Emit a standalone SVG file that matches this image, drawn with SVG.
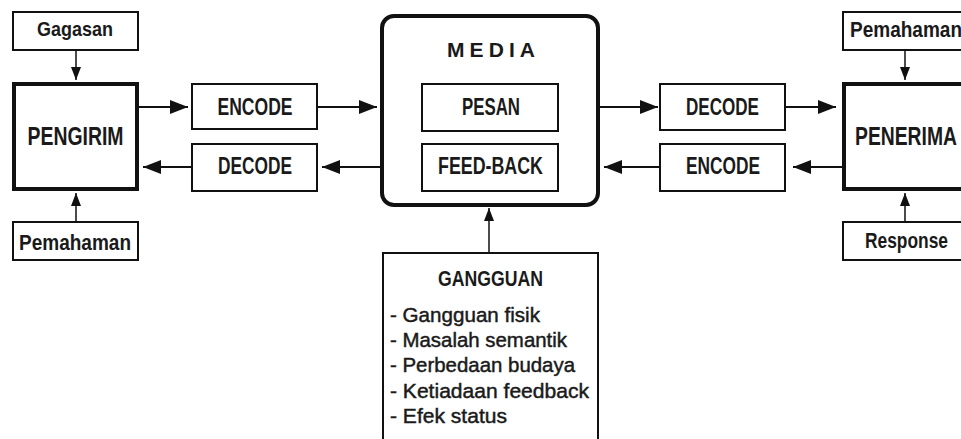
<svg xmlns="http://www.w3.org/2000/svg" width="961" height="439" viewBox="0 0 961 439">
<defs>
<marker id="big" markerUnits="userSpaceOnUse" markerWidth="18" markerHeight="14" refX="18" refY="7" orient="auto"><path d="M0,0 L18,7 L0,14 z" fill="#111"/></marker>
<marker id="small" markerUnits="userSpaceOnUse" markerWidth="13" markerHeight="10" refX="13" refY="5" orient="auto"><path d="M0,0 L13,5 L0,10 z" fill="#111"/></marker>
</defs>
<style>
.b{fill:#fff;stroke:#111;stroke-width:2}
.t{fill:#fff;stroke:#111;stroke-width:4}
text{font-family:"Liberation Sans",Arial,sans-serif;fill:#1a1a1a;font-weight:bold}
.m{font-size:24px;text-anchor:middle}
.s{font-size:21px}
.l{font-size:20.5px;font-weight:normal;stroke:#1a1a1a;stroke-width:0.45}
.c{stroke:#111;stroke-width:2;fill:none;marker-end:url(#big)}
.v{stroke:#111;stroke-width:1.5;fill:none;marker-end:url(#small)}
</style>
<rect width="961" height="439" fill="#fff"/>
<g id="gagasan"><rect class="b" x="13" y="12" width="125" height="38"/><text class="s" x="37" y="36" textLength="76" lengthAdjust="spacingAndGlyphs">Gagasan</text></g>
<g id="pengirim"><rect class="t" x="14" y="84" width="123" height="105"/><text class="m" style="font-size:25px" x="75.5" y="145" textLength="96" lengthAdjust="spacingAndGlyphs">PENGIRIM</text></g>
<g id="pemahaman-l"><rect class="b" x="13" y="222" width="125" height="38"/><text class="s" style="font-size:22px" x="19" y="250" textLength="112" lengthAdjust="spacingAndGlyphs">Pemahaman</text></g>
<g id="encode-l"><rect class="b" x="192" y="84" width="125" height="45"/><text class="m" x="255" y="115" textLength="75" lengthAdjust="spacingAndGlyphs">ENCODE</text></g>
<g id="decode-l"><rect class="b" x="192" y="144" width="125" height="47"/><text class="m" x="255" y="174" textLength="74" lengthAdjust="spacingAndGlyphs">DECODE</text></g>
<g id="media"><rect class="t" x="382" y="16" width="216" height="189" rx="12"/><text class="s" x="447" y="57" textLength="88" lengthAdjust="spacing">MEDIA</text>
<rect class="b" x="422" y="84" width="136" height="47"/><text class="m" x="491" y="115" textLength="58" lengthAdjust="spacingAndGlyphs">PESAN</text>
<rect class="b" x="422" y="144" width="136" height="47"/><text class="m" x="490.5" y="174" textLength="105" lengthAdjust="spacingAndGlyphs">FEED-BACK</text></g>
<g id="decode-r"><rect class="b" x="660" y="84" width="125" height="46"/><text class="m" x="722.5" y="115" textLength="73" lengthAdjust="spacingAndGlyphs">DECODE</text></g>
<g id="encode-r"><rect class="b" x="660" y="144" width="125" height="47"/><text class="m" x="723" y="174" textLength="74" lengthAdjust="spacingAndGlyphs">ENCODE</text></g>
<g id="penerima"><rect class="t" x="844" y="84" width="140" height="105"/><text class="s" style="font-size:25px" x="855" y="145" textLength="102" lengthAdjust="spacingAndGlyphs">PENERIMA</text></g>
<g id="pemahaman-r"><rect class="b" x="843" y="12" width="140" height="38"/><text class="s" style="font-size:22px" x="850" y="37" textLength="112" lengthAdjust="spacingAndGlyphs">Pemahaman</text></g>
<g id="response"><rect class="b" x="843" y="222" width="140" height="38"/><text class="s" style="font-size:22px" x="865" y="248" textLength="83" lengthAdjust="spacingAndGlyphs">Response</text></g>
<g id="gangguan"><rect class="b" x="383" y="253" width="215" height="200"/>
<text class="s" style="font-size:22px" x="438" y="286" textLength="105" lengthAdjust="spacingAndGlyphs">GANGGUAN</text>
<text class="l" x="390" y="322" textLength="150" lengthAdjust="spacingAndGlyphs">- Gangguan fisik</text>
<text class="l" x="390" y="347" textLength="177" lengthAdjust="spacingAndGlyphs">- Masalah semantik</text>
<text class="l" x="390" y="372" textLength="185" lengthAdjust="spacingAndGlyphs">- Perbedaan budaya</text>
<text class="l" x="390" y="398" textLength="199" lengthAdjust="spacingAndGlyphs">- Ketiadaan feedback</text>
<text class="l" x="390" y="423" textLength="117" lengthAdjust="spacingAndGlyphs">- Efek status</text></g>
<g id="connectors">
<path class="c" d="M139,107 H188"/>
<path class="c" d="M318,107 H377"/>
<path class="c" d="M380,167 H322"/>
<path class="c" d="M191,167 H143"/>
<path class="c" d="M600,107 H658"/>
<path class="c" d="M786,107 H836"/>
<path class="c" d="M842,167 H793"/>
<path class="c" d="M659,167 H604"/>
<path class="v" d="M76,50 V80"/>
<path class="v" d="M76,221 V193"/>
<path class="v" d="M905,50 V80"/>
<path class="v" d="M905,221 V193"/>
<path class="v" d="M489,252 V208"/>
</g>
</svg>
